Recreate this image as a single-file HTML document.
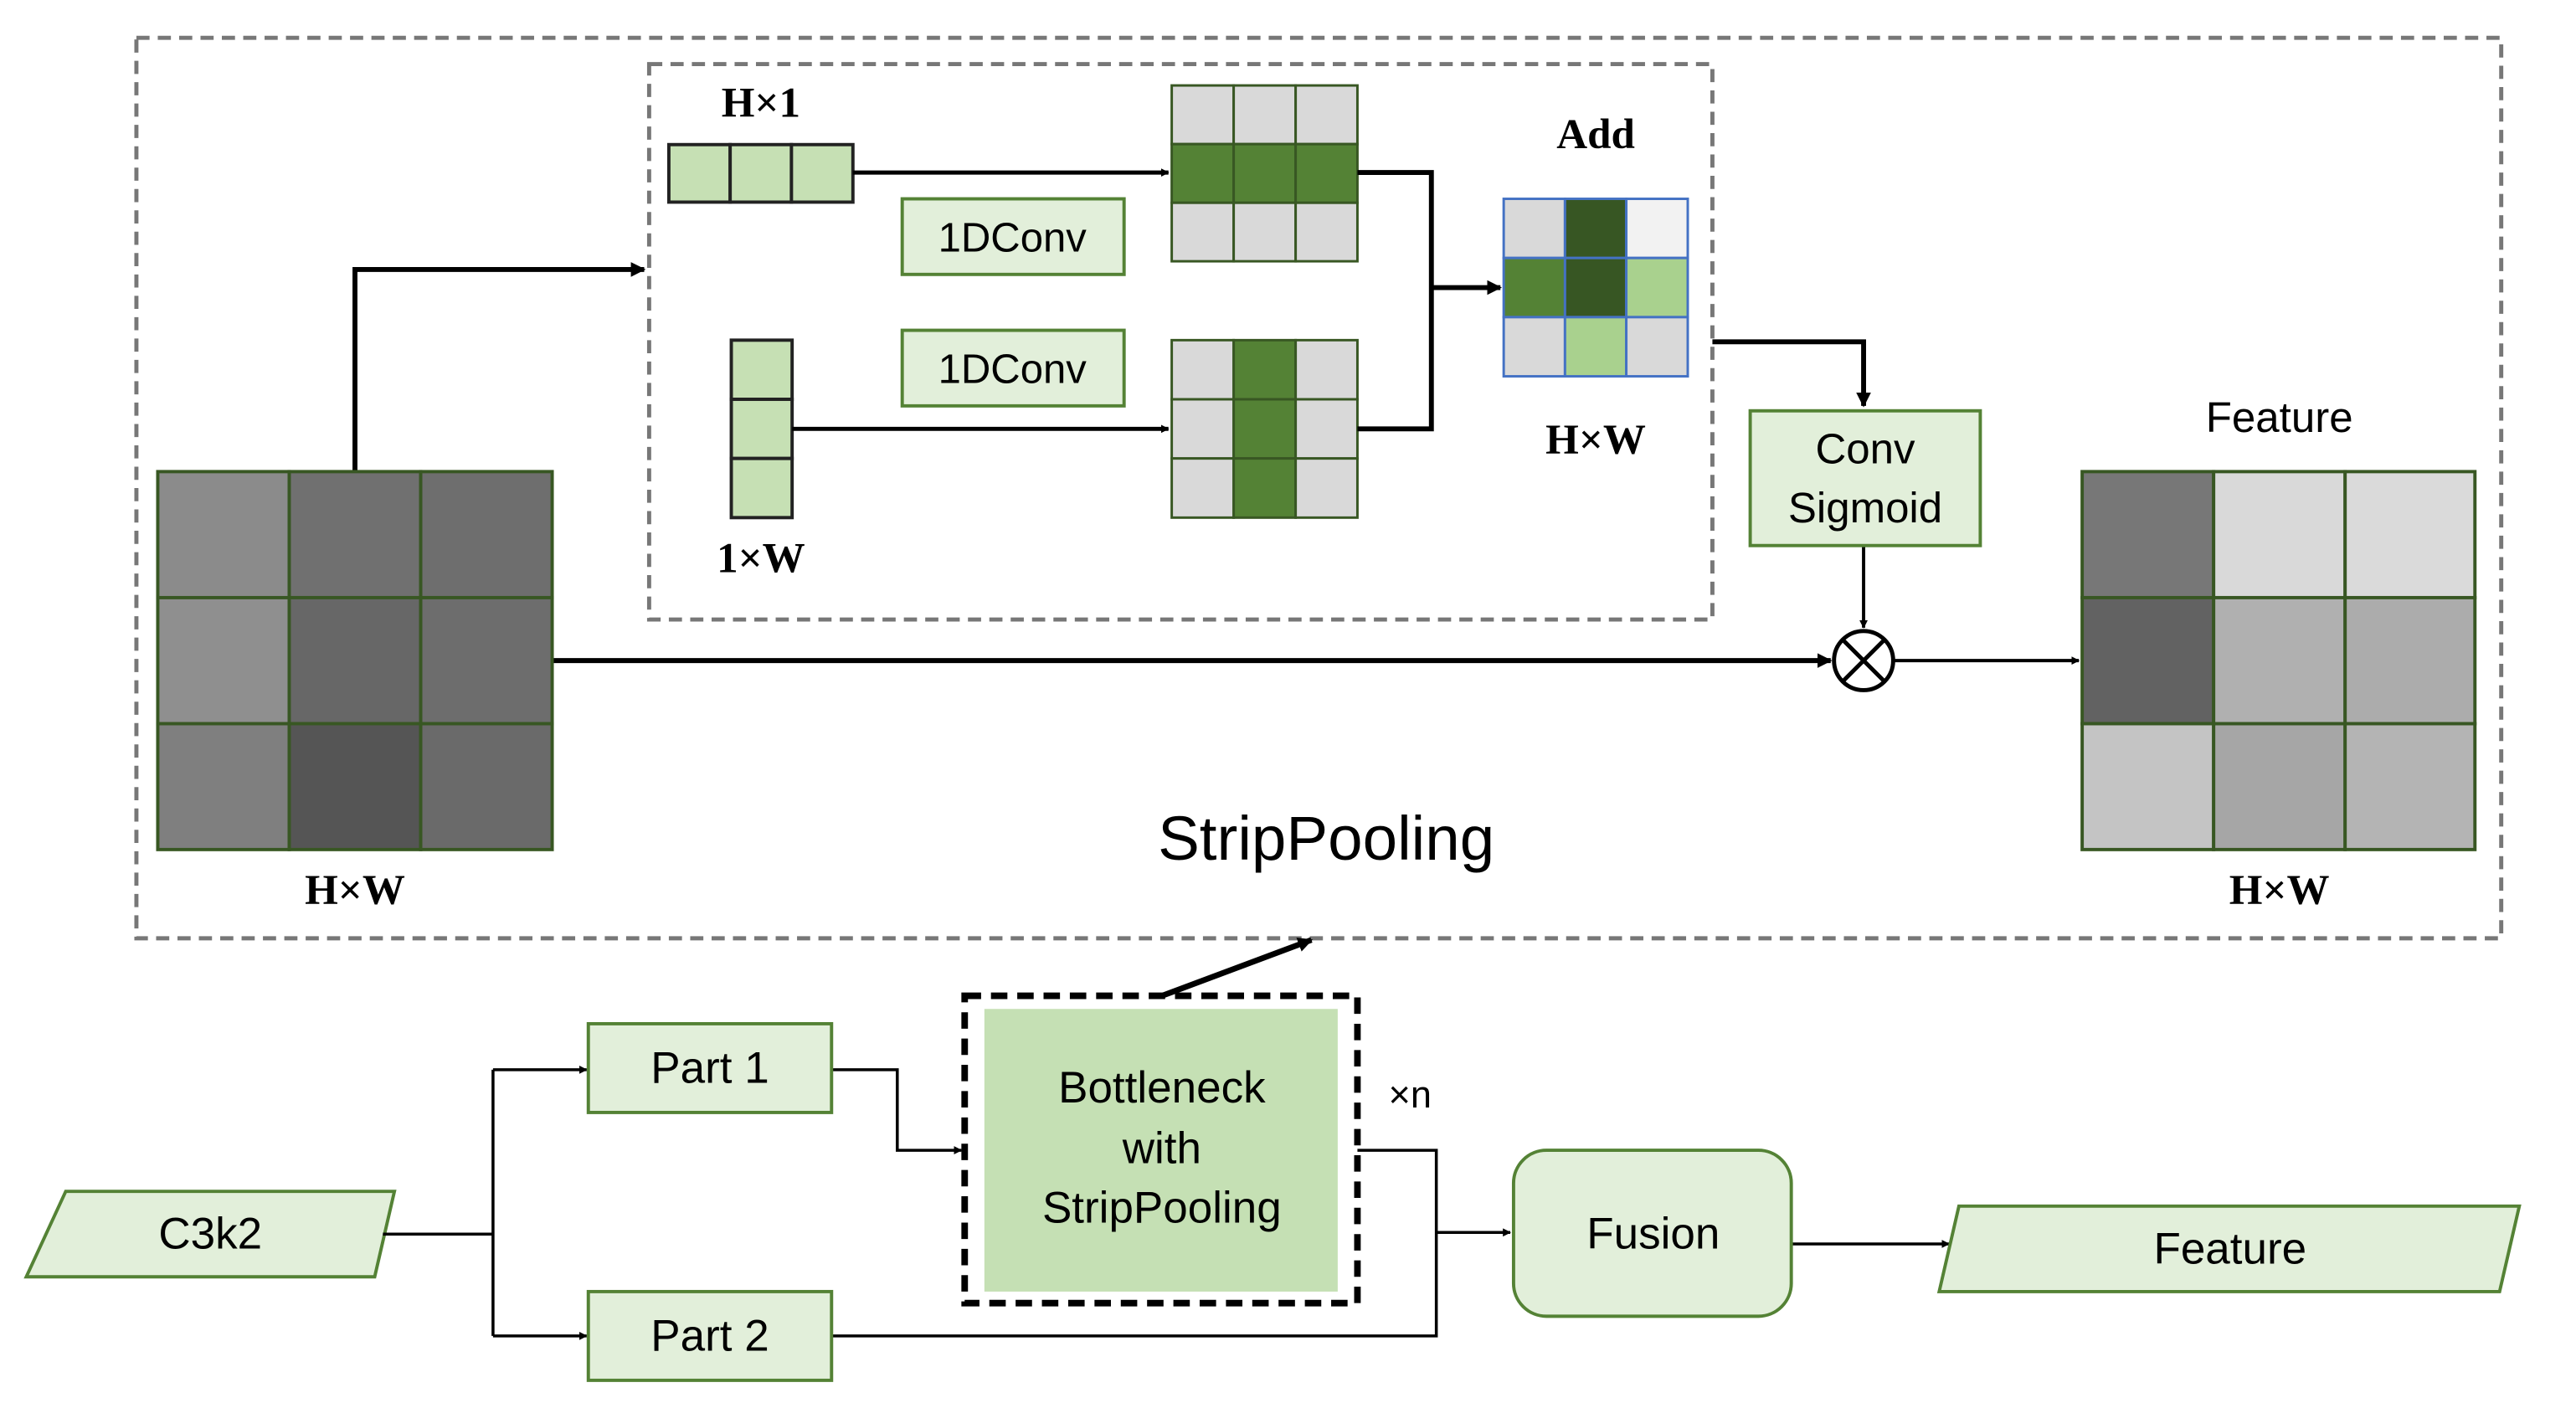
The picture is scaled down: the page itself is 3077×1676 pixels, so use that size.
<!DOCTYPE html>
<html><head><meta charset="utf-8"><style>html,body{margin:0;padding:0;background:#fff}svg{display:block}</style></head>
<body>
<svg width="3077" height="1676" viewBox="0 0 1567.5 853.8" preserveAspectRatio="none" xmlns="http://www.w3.org/2000/svg">
<defs>
<marker id="a" viewBox="0 0 10 10" refX="9" refY="5" markerWidth="5" markerHeight="5" orient="auto" markerUnits="userSpaceOnUse"><path d="M0,0L10,5L0,10z" fill="#000"/></marker>
<marker id="b" viewBox="0 0 10 10" refX="9" refY="5" markerWidth="9" markerHeight="9" orient="auto" markerUnits="userSpaceOnUse"><path d="M0,0L10,5L0,10z" fill="#000"/></marker>
</defs>
<g font-family="Liberation Sans, sans-serif" text-anchor="middle" dominant-baseline="central">
<rect x="83" y="23" width="1439" height="548" fill="none" stroke="#777" stroke-width="2.5" stroke-dasharray="8,5"/>
<rect x="395" y="39" width="647" height="338" fill="none" stroke="#777" stroke-width="2.5" stroke-dasharray="8,5"/>

<text x="463" y="63" font-family="Liberation Serif, serif" font-weight="bold" font-size="26">H×1</text>
<g stroke="#222" stroke-width="2" fill="#c6e0b4"><rect x="407" y="88" width="37.3" height="35"/><rect x="444.3" y="88" width="37.3" height="35"/><rect x="481.6" y="88" width="37.4" height="35"/></g>
<g stroke="#222" stroke-width="2" fill="#c6e0b4"><rect x="445" y="207" width="37" height="36"/><rect x="445" y="243" width="37" height="36"/><rect x="445" y="279" width="37" height="36"/></g>
<text x="463" y="340" font-family="Liberation Serif, serif" font-weight="bold" font-size="26">1×W</text>

<g fill="#e2efda" stroke="#548235" stroke-width="2"><rect x="549" y="121" width="135" height="46"/><rect x="549" y="201" width="135" height="46"/></g>
<text x="616" y="145" font-size="25">1DConv</text>
<text x="616" y="225" font-size="25">1DConv</text>

<g stroke="#385723" stroke-width="1.5">
<rect x="713" y="52" width="37.7" height="35.7" fill="#d9d9d9"/><rect x="750.7" y="52" width="37.7" height="35.7" fill="#d9d9d9"/><rect x="788.4" y="52" width="37.6" height="35.7" fill="#d9d9d9"/>
<rect x="713" y="87.7" width="37.7" height="35.7" fill="#548235"/><rect x="750.7" y="87.7" width="37.7" height="35.7" fill="#548235"/><rect x="788.4" y="87.7" width="37.6" height="35.7" fill="#548235"/>
<rect x="713" y="123.4" width="37.7" height="35.6" fill="#d9d9d9"/><rect x="750.7" y="123.4" width="37.7" height="35.6" fill="#d9d9d9"/><rect x="788.4" y="123.4" width="37.6" height="35.6" fill="#d9d9d9"/>
<rect x="713" y="207" width="37.7" height="36" fill="#d9d9d9"/><rect x="750.7" y="207" width="37.7" height="36" fill="#548235"/><rect x="788.4" y="207" width="37.6" height="36" fill="#d9d9d9"/>
<rect x="713" y="243" width="37.7" height="36" fill="#d9d9d9"/><rect x="750.7" y="243" width="37.7" height="36" fill="#548235"/><rect x="788.4" y="243" width="37.6" height="36" fill="#d9d9d9"/>
<rect x="713" y="279" width="37.7" height="36" fill="#d9d9d9"/><rect x="750.7" y="279" width="37.7" height="36" fill="#548235"/><rect x="788.4" y="279" width="37.6" height="36" fill="#d9d9d9"/>
</g>

<g stroke="#4472c4" stroke-width="1.5">
<rect x="915" y="121" width="37.3" height="36" fill="#d9d9d9"/><rect x="952.3" y="121" width="37.3" height="36" fill="#375623"/><rect x="989.6" y="121" width="37.4" height="36" fill="#f2f2f2"/>
<rect x="915" y="157" width="37.3" height="36" fill="#548235"/><rect x="952.3" y="157" width="37.3" height="36" fill="#375623"/><rect x="989.6" y="157" width="37.4" height="36" fill="#a9d18e"/>
<rect x="915" y="193" width="37.3" height="36" fill="#d9d9d9"/><rect x="952.3" y="193" width="37.3" height="36" fill="#a9d18e"/><rect x="989.6" y="193" width="37.4" height="36" fill="#d9d9d9"/>
</g>
<text x="971" y="82" font-family="Liberation Serif, serif" font-weight="bold" font-size="26">Add</text>
<text x="971" y="268" font-family="Liberation Serif, serif" font-weight="bold" font-size="26">H×W</text>

<g fill="none" stroke="#000" stroke-width="3">
<path d="M519,105H711" stroke-width="2.5" marker-end="url(#a)"/>
<path d="M482,261H711" stroke-width="2.5" marker-end="url(#a)"/>
<path d="M826,105H871V261H826"/>
<path d="M871,175H913" marker-end="url(#b)"/>
<path d="M1042,208H1134V247" marker-end="url(#b)"/>
<path d="M216,287V164H392" marker-end="url(#b)"/>
<path d="M336,402H1114" marker-end="url(#b)"/>
<path d="M1134,332V382" stroke-width="2" marker-end="url(#a)"/>
<path d="M1152,402H1265" stroke-width="2" marker-end="url(#a)"/>
<path d="M707,606L798,572" stroke-width="3.5" marker-end="url(#b)"/>
</g>
<circle cx="1134" cy="402" r="18" fill="#fff" stroke="#000" stroke-width="2.5"/>
<path d="M1121,389L1147,415M1147,389L1121,415" stroke="#000" stroke-width="2.5"/>

<rect x="1065" y="250" width="140" height="82" fill="#e2efda" stroke="#548235" stroke-width="2"/>
<text x="1135" y="273" font-size="26">Conv</text>
<text x="1135" y="309" font-size="26">Sigmoid</text>

<g stroke="#385723" stroke-width="2">
<rect x="96" y="287" width="80" height="76.7" fill="#8b8b8b"/><rect x="176" y="287" width="80" height="76.7" fill="#707070"/><rect x="256" y="287" width="80" height="76.7" fill="#6e6e6e"/>
<rect x="96" y="363.7" width="80" height="76.7" fill="#8f8f8f"/><rect x="176" y="363.7" width="80" height="76.7" fill="#676767"/><rect x="256" y="363.7" width="80" height="76.7" fill="#6d6d6d"/>
<rect x="96" y="440.4" width="80" height="76.6" fill="#7f7f7f"/><rect x="176" y="440.4" width="80" height="76.6" fill="#555"/><rect x="256" y="440.4" width="80" height="76.6" fill="#6a6a6a"/>
<rect x="1267" y="287" width="80" height="76.7" fill="#777"/><rect x="1347" y="287" width="80" height="76.7" fill="#d9d9d9"/><rect x="1427" y="287" width="79" height="76.7" fill="#dadada"/>
<rect x="1267" y="363.7" width="80" height="76.7" fill="#626262"/><rect x="1347" y="363.7" width="80" height="76.7" fill="#b0b0b0"/><rect x="1427" y="363.7" width="79" height="76.7" fill="#acacac"/>
<rect x="1267" y="440.4" width="80" height="76.6" fill="#c4c4c4"/><rect x="1347" y="440.4" width="80" height="76.6" fill="#a6a6a6"/><rect x="1427" y="440.4" width="79" height="76.6" fill="#b4b4b4"/>
</g>
<text x="216" y="542" font-family="Liberation Serif, serif" font-weight="bold" font-size="26">H×W</text>
<text x="1387" y="542" font-family="Liberation Serif, serif" font-weight="bold" font-size="26">H×W</text>
<text x="1387" y="254" font-size="26">Feature</text>
<text x="807" y="510" font-size="38">StripPooling</text>

<polygon points="40,725 240,725 228,777 16,777" fill="#e2efda" stroke="#548235" stroke-width="2"/>
<text x="128" y="751" font-size="27">C3k2</text>
<g fill="none" stroke="#000" stroke-width="1.8">
<path d="M233,751H300"/><path d="M300,651V813"/>
<path d="M300,651H357" marker-end="url(#a)"/><path d="M300,813H357" marker-end="url(#a)"/>
<path d="M506,651H546V700H585" marker-end="url(#a)"/>
<path d="M826,700H874V813H506"/>
<path d="M874,750H919" marker-end="url(#a)"/>
<path d="M1090,757H1186" marker-end="url(#a)"/>
</g>
<g fill="#e2efda" stroke="#548235" stroke-width="2">
<rect x="358" y="623" width="148" height="54"/><rect x="358" y="786" width="148" height="54"/>
<rect x="921" y="700" width="169" height="101" rx="20"/>
<polygon points="1192,734 1533,734 1521,786 1180,786"/>
</g>
<text x="432" y="650" font-size="27">Part 1</text>
<text x="432" y="813" font-size="27">Part 2</text>
<text x="1006" y="751" font-size="27">Fusion</text>
<text x="1357" y="760" font-size="27">Feature</text>
<rect x="587" y="606" width="239" height="187" fill="none" stroke="#000" stroke-width="4" stroke-dasharray="10,6"/>
<rect x="599" y="614" width="215" height="172" fill="#c5e0b4"/>
<text x="707" y="662" font-size="27">Bottleneck</text>
<text x="707" y="699" font-size="27">with</text>
<text x="707" y="735" font-size="27">StripPooling</text>
<text x="858" y="666" font-size="23">×n</text>
</g>
</svg>
</body></html>
